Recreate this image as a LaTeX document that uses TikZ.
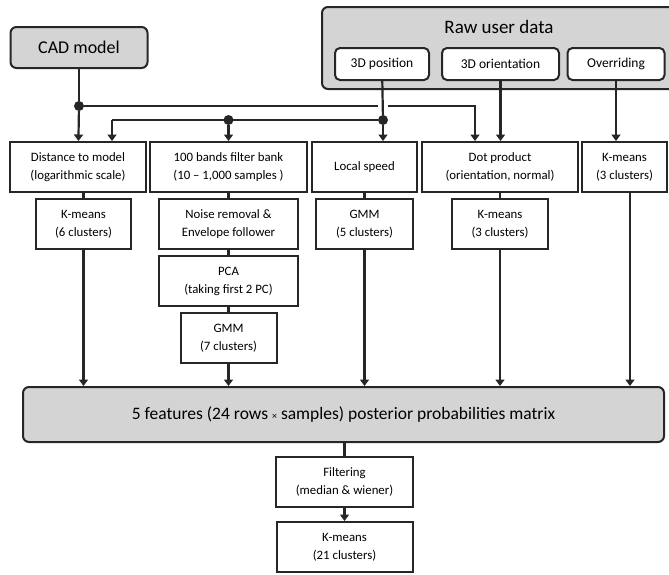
\documentclass[tikz,border=0pt]{standalone}
\usepackage{fontspec}
\setmainfont{Carlito}
\usetikzlibrary{arrows.meta}
\begin{document}
\begin{tikzpicture}[x=1pt,y=-1pt,>={Triangle[width=9pt,length=6.5pt]}]
        		\tikzstyle{block}=[rectangle,draw=black!85,line width=2pt,fill=white,align=center,inner sep=0pt,minimum height=50pt,font=\fontsize{12.8}{18}\selectfont]
				\tikzstyle{source}=[rectangle,rounded corners=6pt,draw=black!85,line width=2pt,fill=black!17,inner sep=0pt]
				\tikzstyle{channel}=[rectangle,rounded corners=5pt,draw=black!85,line width=2pt,fill=white,inner sep=0pt,minimum height=32pt,font=\fontsize{13.5}{15}\selectfont]
				\tikzstyle{junction}=[circle,fill=black!85,inner sep=0pt,minimum size=10pt]
        		\tikzstyle{edge}=[draw=black!85,line width=2.2pt,->]
        		\tikzstyle{line}=[draw=black!85,line width=2.2pt]

				\useasboundingbox (0,0) rectangle (669,574);
				\clip (0,0) rectangle (669,574);

       			\begin{scope}

			         \node [source,minimum width=137pt,minimum height=41pt,font=\fontsize{18}{22}\selectfont] (cad) at (79,47.5) {CAD model};
			         \node [source,minimum width=358pt,minimum height=82pt] (raw) at (501,48) {};
			         \node [font=\fontsize{19}{23}\selectfont] (rawtitle) at (499,27) {Raw user data};
			         \node [channel,minimum width=94pt] (pos) at (382,64) {3D position};
			         \node [channel,minimum width=117pt] (ori) at (500.5,64) {3D orientation};
			         \node [channel,minimum width=97pt] (ovr) at (616,64) {Overriding};

			         \node [block,minimum width=136pt] (dist) at (78,167) {Distance to model\\(logarithmic scale)};
			         \node [block,minimum width=157pt] (bank) at (228.5,167) {100 bands filter bank\\(10 – 1,000 samples )};
			         \node [block,minimum width=105pt] (speed) at (364.5,167) {Local speed};
			         \node [block,minimum width=156pt] (dot) at (500,167) {Dot product\\(orientation, normal)};
			         \node [block,minimum width=85pt] (kmr) at (624.5,167) {K-means\\(3 clusters)};

			         \node [block,minimum width=95pt] (km6) at (83.5,224) {K-means\\(6 clusters)};
			         \node [block,minimum width=139pt] (noise) at (228.5,224) {Noise removal \&\\Envelope follower};
			         \node [block,minimum width=97pt] (gmm5) at (364.5,224) {GMM\\(5 clusters)};
			         \node [block,minimum width=96pt] (km3) at (500,224) {K-means\\(3 clusters)};
			         \node [block,minimum width=139pt] (pca) at (228.5,281) {PCA\\(taking first 2 PC)};
			         \node [block,minimum width=96pt] (gmm7) at (228.5,338) {GMM\\(7 clusters)};

			         \node [source,minimum width=641pt,minimum height=55pt,font=\fontsize{17.5}{21}\selectfont] (matrix) at (343.5,414.5) {5 features (24 rows {\fontsize{10}{10}\selectfont ×} samples) posterior probabilities matrix};
			         \node [block,minimum width=137pt] (filter) at (344.5,482) {Filtering\\(median \& wiener)};
			         \node [block,minimum width=136pt] (km21) at (344.5,547) {K-means\\(21 clusters)};

			         \node [junction] (j1) at (79,106) {};
			         \node [junction] (j2) at (228.5,120) {};
			         \node [junction] (j3) at (383,120) {};
			         \coordinate (gapl) at (378,106);
			         \coordinate (gapr) at (388,106);
			         \coordinate (split) at (112,120);

			 		\path[line] (cad) -- (j1);
			 		\path[edge] (j1) -- (dist);
			 		\path[line] (j1) -- (gapl);
			 		\path[edge] (gapr) -| ([xshift=-25pt]dot.north);
			 		\path[line] (split) -- (j3);
			 		\path[edge] (split) -- (split |- dist.north);
			 		\path[edge] (j2) -- (bank);
			 		\path[line] (pos) -- (j3);
			 		\path[edge] (j3) -- (j3 |- speed.north);
			 		\path[edge] (ori) -- (ori |- dot.north);
			 		\path[edge] (ovr) -- (ovr |- kmr.north);

			 		\path[line] (km6.north |- dist.south) -- (km6);
			 		\path[line] (bank) -- (noise);
			 		\path[line] (noise) -- (pca);
			 		\path[line] (pca) -- (gmm7);
			 		\path[line] (gmm5.north |- speed.south) -- (gmm5);
			 		\path[line] (dot) -- (km3);

			 		\path[edge] (km6) -- (km6 |- matrix.north);
			 		\path[edge] (gmm7) -- (gmm7 |- matrix.north);
			 		\path[edge] (gmm5) -- (gmm5 |- matrix.north);
			 		\path[edge] (km3) -- (km3 |- matrix.north);
			 		\path[edge] ([xshift=5.5pt]kmr.south) -- ([xshift=5.5pt]kmr.south |- matrix.north);
			 		\path[line] (filter.north |- matrix.south) -- (filter);
			 		\path[edge] (filter) -- (km21);

		        \end{scope}
     		 \end{tikzpicture}
\end{document}
